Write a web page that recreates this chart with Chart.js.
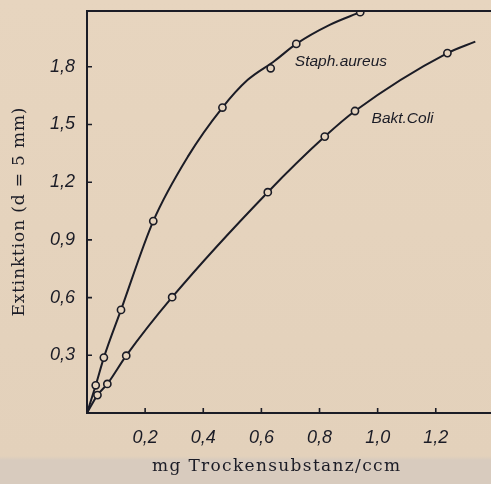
<!DOCTYPE html>
<html><head><meta charset="utf-8">
<script src="https://cdn.jsdelivr.net/npm/chart.js@4"></script>
<style>
html,body{margin:0;padding:0;width:491px;height:484px;overflow:hidden;
background:linear-gradient(#e7d5bf 0px,#e3d1bb 456px,#d8cbbe 460px,#d8cbbe 484px);}
#wrap{width:491px;height:484px;position:relative}
</style></head><body>
<div id="wrap"><canvas id="c" width="491" height="484"></canvas></div>
<script>
// Measured points (circles)
const staphX = [0.030, 0.058, 0.117, 0.228, 0.466, 0.632, 0.720, 0.940];
const staphY = [0.144, 0.288, 0.536, 0.998, 1.588, 1.792, 1.919, 2.084];
const coliX  = [0.036, 0.070, 0.135, 0.293, 0.622, 0.818, 0.922, 1.240];
const coliY  = [0.093, 0.151, 0.298, 0.602, 1.148, 1.437, 1.570, 1.871];
// Drawn smooth curves
const staphCurveX = [0, 0.030, 0.058, 0.117, 0.228, 0.347, 0.466, 0.553, 0.645, 0.720, 0.835, 0.940];
const staphCurveY = [0, 0.144, 0.288, 0.536, 0.998, 1.333, 1.588, 1.732, 1.830, 1.919, 2.018, 2.084];
const coliCurveX  = [0, 0.036, 0.070, 0.135, 0.293, 0.622, 0.818, 0.922, 1.240, 1.336];
const coliCurveY  = [0, 0.093, 0.151, 0.298, 0.602, 1.148, 1.437, 1.570, 1.871, 1.931];
const seriesNames = ['Staph.aureus', 'Bakt.Coli'];
// Label anchor positions in data units
const labelAnchorX = [0.715, 0.979];
const labelAnchorY = [1.825, 1.53];
const xTicks = [0.2, 0.4, 0.6, 0.8, 1.0, 1.2];
const yTicks = [0.3, 0.6, 0.9, 1.2, 1.5, 1.8];
const xTitle = 'mg Trockensubstanz/ccm';
const yTitle = 'Extinktion (d = 5 mm)';
const xMax = 1.39, yMax = 2.09;

const INK = '#1b1c26';
const PAPER = '#e6d4be';
const TICKFONT = '"Liberation Sans", Arial, sans-serif';
const fmt = v => v.toFixed(1).replace('.', ',');
const pts = (xs, ys) => xs.map((x, i) => ({x, y: ys[i]}));

function spacedText(ctx, text, cx, cy, targetW) {
  ctx.letterSpacing = '0px';
  const w = ctx.measureText(text).width;
  const ls = Math.max(0, (targetW - w) / (text.length - 1));
  ctx.letterSpacing = ls + 'px';
  ctx.fillText(text, cx - targetW / 2, cy);
  ctx.letterSpacing = '0px';
}

const decor = {
  id: 'decor',
  afterDraw(chart) {
    const {ctx, chartArea: a, scales: {x, y}} = chart;
    ctx.save();
    ctx.strokeStyle = INK;
    ctx.lineWidth = 2;
    ctx.beginPath();
    ctx.moveTo(a.left - 1, a.top);
    ctx.lineTo(a.right, a.top);
    ctx.stroke();
    ctx.lineWidth = 1.6;
    ctx.beginPath();
    xTicks.forEach(v => { const p = x.getPixelForValue(v); ctx.moveTo(p, a.bottom); ctx.lineTo(p, a.bottom - 5); });
    yTicks.forEach(v => { const p = y.getPixelForValue(v); ctx.moveTo(a.left, p); ctx.lineTo(a.left + 5, p); });
    ctx.stroke();
    ctx.fillStyle = INK;
    ctx.font = 'italic 15.5px ' + TICKFONT;
    ctx.textBaseline = 'middle';
    ctx.textAlign = 'left';
    seriesNames.forEach((n, i) => {
      ctx.fillText(n, x.getPixelForValue(labelAnchorX[i]), y.getPixelForValue(labelAnchorY[i]));
    });
    // axis titles
    ctx.font = '17px "DejaVu Serif", "Liberation Serif", serif';
    ctx.textAlign = 'left';
    spacedText(ctx, xTitle, 276, 467, 248);
    ctx.translate(20, 212);
    ctx.rotate(-Math.PI / 2);
    spacedText(ctx, yTitle, 0, 0, 209);
    ctx.restore();
  }
};

const lineDs = (data) => ({
  type: 'line', data, borderColor: INK, borderWidth: 2, pointRadius: 0,
  cubicInterpolationMode: 'monotone', fill: false, order: 2
});
const ptDs = (data) => ({
  type: 'scatter', data, borderColor: INK, backgroundColor: PAPER,
  borderWidth: 1.6, pointRadius: 3.6, order: 1
});

new Chart(document.getElementById('c'), {
  data: {
    datasets: [
      lineDs(pts(staphCurveX, staphCurveY)), lineDs(pts(coliCurveX, coliCurveY)),
      ptDs(pts(staphX, staphY)), ptDs(pts(coliX, coliY))
    ]
  },
  options: {
    responsive: false,
    animation: false,
    devicePixelRatio: 1,
    layout: {autoPadding: false, padding: {top: 11, right: 0, left: 0, bottom: 0}},
    plugins: {legend: {display: false}, tooltip: {enabled: false}},
    scales: {
      x: {
        type: 'linear', min: 0, max: xMax,
        afterBuildTicks: s => { s.ticks = xTicks.map(v => ({value: v})); },
        afterFit: s => { s.height = 71; s.paddingLeft = 0; s.paddingRight = 0; },
        grid: {display: false, drawTicks: false},
        border: {display: true, color: INK, width: 2},
        ticks: {
          padding: 14, color: INK, maxRotation: 0, autoSkip: false,
          font: {family: TICKFONT, size: 18, style: 'italic'},
          callback: v => fmt(v)
        }
      },
      y: {
        type: 'linear', min: 0, max: yMax,
        afterBuildTicks: s => { s.ticks = yTicks.map(v => ({value: v})); },
        afterFit: s => { s.width = 87; s.paddingTop = 0; s.paddingBottom = 0; },
        grid: {display: false, drawTicks: false},
        border: {display: true, color: INK, width: 2},
        ticks: {
          padding: 12, color: INK, autoSkip: false,
          font: {family: TICKFONT, size: 18, style: 'italic'},
          callback: v => fmt(v)
        }
      }
    }
  },
  plugins: [decor]
});
</script>
</body></html>
